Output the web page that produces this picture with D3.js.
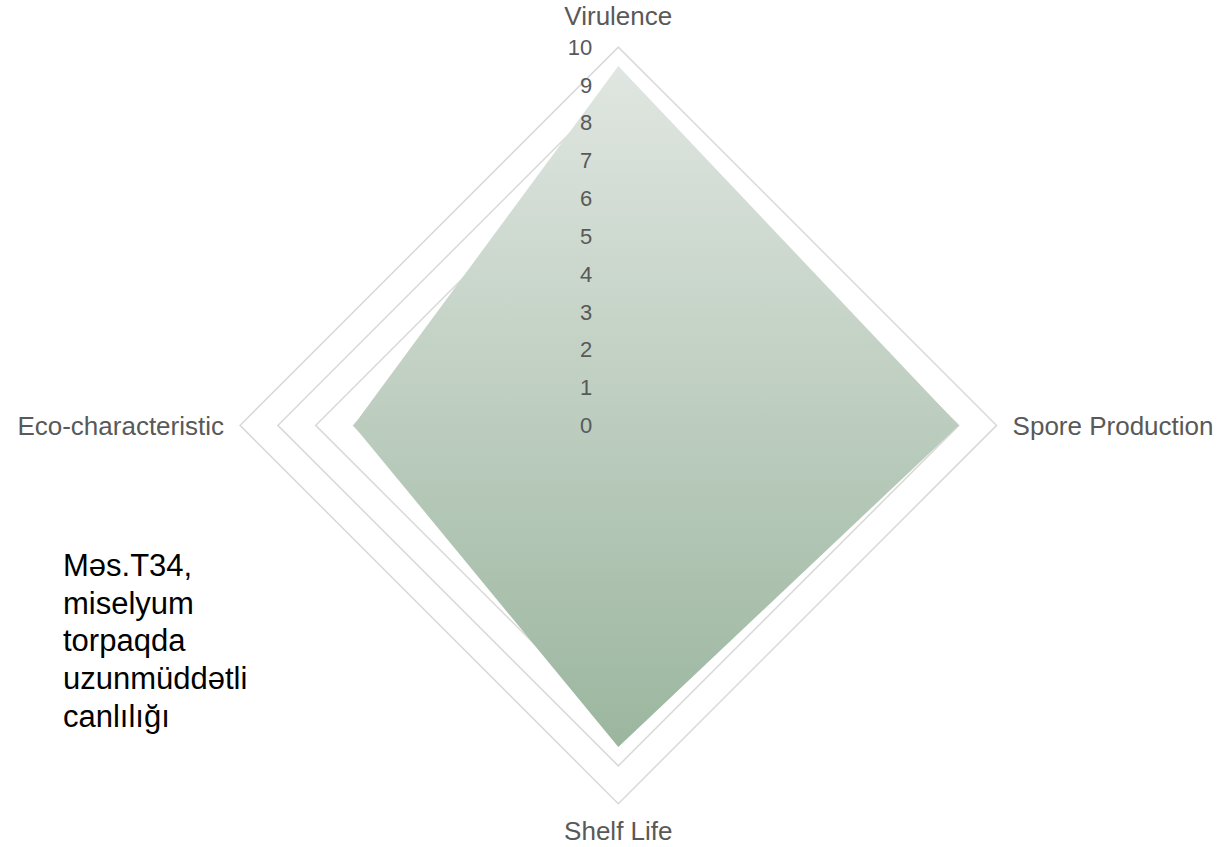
<!DOCTYPE html>
<html>
<head>
<meta charset="utf-8">
<script src="https://cdn.jsdelivr.net/npm/d3@7"></script>
<style>
    html, body { margin: 0; padding: 0; background: #fff; }
    svg { display: block; font-family: "Liberation Sans", Arial, sans-serif; }
</style>
</head>
<body>
<div id="chart"></div>
<script>
const categories = ['Virulence', 'Spore Production', 'Shelf Life', 'Eco-characteristic'];
const values = [9.5, 9, 8.5, 7];
const tickValues = [0, 1, 2, 3, 4, 5, 6, 7, 8, 9, 10];
const noteLines = ['Məs.T34,', 'miselyum', 'torpaqda', 'uzunmüddətli', 'canlılığı'];

(function (window) {
    const COLORS = {
        grid: '#d9d9d9',
        fillTop: '#e0e6e1',
        fillBottom: '#9bb69f',
        text: '#595959',
        note: '#000'
    };

    const WIDTH = 1217;
    const HEIGHT = 847;
    const CX = 618.3;
    const CY = 425.4;
    const RADIUS = 378.3;

    function createRadar(containerId) {
        const container = d3.select(containerId);
        container.selectAll('*').remove();

        const svg = container.append('svg')
            .attr('width', WIDTH)
            .attr('height', HEIGHT);

        // vertical gradient for the area
        const grad = svg.append('defs').append('linearGradient')
            .attr('id', 'areaFill')
            .attr('x1', 0).attr('y1', 0)
            .attr('x2', 0).attr('y2', 1);
        grad.append('stop').attr('offset', '0%').attr('stop-color', COLORS.fillTop);
        grad.append('stop').attr('offset', '100%').attr('stop-color', COLORS.fillBottom);

        const g = svg.append('g')
            .attr('transform', `translate(${CX},${CY})`);

        const r = d3.scaleLinear()
            .domain([0, d3.max(tickValues)])
            .range([0, RADIUS]);

        const angle = d3.scalePoint()
            .domain(categories)
            .range([0, 2 * Math.PI * (categories.length - 1) / categories.length]);

        const point = (cat, v) => [
            Math.sin(angle(cat)) * r(v),
            -Math.cos(angle(cat)) * r(v)
        ];

        // grid diamonds
        g.selectAll('.grid')
            .data(tickValues.filter(d => d > 0))
            .enter()
            .append('polygon')
            .attr('class', 'grid')
            .attr('points', t => categories.map(c => point(c, t).join(',')).join(' '))
            .attr('fill', 'none')
            .attr('stroke', COLORS.grid)
            .attr('stroke-width', 1.5);

        // data area
        const line = d3.line().curve(d3.curveLinearClosed);
        g.append('path')
            .datum(categories.map((c, i) => point(c, values[i])))
            .attr('d', line)
            .attr('fill', 'url(#areaFill)');

        // tick labels
        g.selectAll('.tick-label')
            .data(tickValues)
            .enter()
            .append('text')
            .attr('class', 'tick-label')
            .attr('x', -26)
            .attr('y', d => -r(d))
            .attr('dy', '0.35em')
            .style('text-anchor', 'end')
            .style('font-size', '22px')
            .attr('fill', COLORS.text)
            .text(d => d);

        // axis labels
        g.selectAll('.axis-label')
            .data(categories)
            .enter()
            .append('text')
            .attr('class', 'axis-label')
            .attr('x', c => {
                const s = Math.sin(angle(c));
                return s * (RADIUS + (Math.abs(s) > 0.5 ? 16 : 30));
            })
            .attr('y', c => {
                const co = Math.cos(angle(c));
                // top label a bit further out than the bottom one
                const pad = co > 0.5 ? 31 : 27;
                return -co * (RADIUS + (Math.abs(co) > 0.5 ? pad : 16));
            })
            .attr('dy', '0.35em')
            .style('text-anchor', c => {
                const s = Math.sin(angle(c));
                return s > 0.5 ? 'start' : (s < -0.5 ? 'end' : 'middle');
            })
            .style('font-size', '26px')
            .attr('fill', COLORS.text)
            .text(c => c);

        // annotation
        const note = svg.append('text')
            .attr('x', 63)
            .attr('y', 576)
            .style('font-size', '31px')
            .attr('fill', COLORS.note);

        note.selectAll('tspan')
            .data(noteLines)
            .enter()
            .append('tspan')
            .attr('x', 63)
            .attr('dy', (d, i) => i === 0 ? 0 : 37.7)
            .text(d => d);
    }

    document.addEventListener('DOMContentLoaded', function() {
        createRadar('#chart');
    });
})(window);
</script>
</body>
</html>
